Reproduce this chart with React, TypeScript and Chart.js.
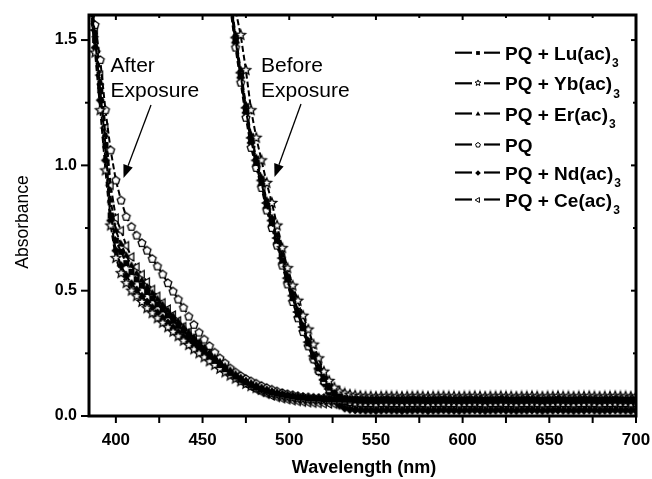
import React, { useEffect, useRef } from 'react';
import { Chart, registerables } from 'chart.js';
Chart.register(...registerables);

const FONT = "'Liberation Sans', Arial, Helvetica, sans-serif";

// Wavelength sampling (nm)
const WAVE_AFTER = [385,388,391,394,397,400,403,406,409,412,415,418,421,424,427,430,433,436,439,442,445,448,451,454,457,460,463,466,469,472,475,478,481,484,487,490,493,496,499,502,505,508,511,514,517,520,523,526,529,532,535,538,541,544,547,550,553,556,559,562,565,568,571,574,577,580,583,586,589,592,595,598,601,604,607,610,613,616,619,622,625,628,631,634,637,640,643,646,649,652,655,658,661,664,667,670,673,676,679,682,685,688,691,694,697,700];
const WAVE_BEFORE = WAVE_AFTER.slice(27);

// After exposure
const LU_AFTER = [1.68,1.50,1.30,1.08,0.80,0.70,0.655,0.61,0.575,0.545,0.52,0.495,0.47,0.446,0.425,0.402,0.38,0.36,0.34,0.318,0.298,0.278,0.258,0.238,0.22,0.203,0.187,0.172,0.158,0.145,0.134,0.124,0.115,0.107,0.1,0.094,0.089,0.085,0.081,0.078,0.075,0.073,0.071,0.07,0.069,0.068,0.067,
0.066,0.066,0.065,0.066,0.067,0.066,0.066,0.065,0.066,0.066,
0.067,0.066,0.065,0.066,0.066,0.067,0.066,0.066,0.065,0.066,
0.066,0.067,0.066,0.065,0.066,0.066,0.067,0.066,0.066,0.065,
0.066,0.066,0.067,0.066,0.065,0.066,0.066,0.067,0.066,0.066,
0.065,0.066,0.066,0.067,0.066,0.065,0.066,0.066,0.067,0.066,
0.066,0.065,0.066,0.066,0.067,0.066,0.065,0.066,0.066];
const YB_AFTER = [1.65,1.45,1.22,0.98,0.76,0.63,0.57,0.53,0.50,0.478,0.455,0.43,0.41,0.39,0.372,0.354,0.336,0.318,0.3,0.283,0.266,0.25,0.234,0.218,0.203,0.188,0.174,0.161,0.149,0.138,0.128,0.119,0.111,0.104,0.097,0.091,0.086,0.081,0.077,0.074,0.071,0.069,0.067,0.066,0.065,0.064,0.063,
0.062,0.062,0.061,0.062,0.063,0.062,0.062,0.061,0.062,0.062,
0.063,0.062,0.061,0.062,0.062,0.063,0.062,0.062,0.061,0.062,
0.062,0.063,0.062,0.061,0.062,0.062,0.063,0.062,0.062,0.061,
0.062,0.062,0.063,0.062,0.061,0.062,0.062,0.063,0.062,0.062,
0.061,0.062,0.062,0.063,0.062,0.061,0.062,0.062,0.063,0.062,
0.062,0.061,0.062,0.062,0.063,0.062,0.061,0.062,0.062];
const ER_AFTER = [1.70,1.52,1.33,1.12,0.86,0.74,0.685,0.64,0.6,0.568,0.54,0.514,0.49,0.466,0.443,0.42,0.398,0.376,0.355,0.334,0.313,0.293,0.272,0.252,0.233,0.215,0.198,0.182,0.167,0.153,0.141,0.13,0.121,0.112,0.104,0.097,0.092,0.087,0.083,0.08,0.077,0.075,0.073,0.072,0.071,0.07,0.069,
0.068,0.068,0.067,0.068,0.069,0.068,0.068,0.067,0.068,0.068,
0.069,0.068,0.067,0.068,0.068,0.069,0.068,0.068,0.067,0.068,
0.068,0.069,0.068,0.067,0.068,0.068,0.069,0.068,0.068,0.067,
0.068,0.068,0.069,0.068,0.067,0.068,0.068,0.069,0.068,0.068,
0.067,0.068,0.068,0.069,0.068,0.067,0.068,0.068,0.069,0.068,
0.068,0.067,0.068,0.068,0.069,0.068,0.067,0.068,0.068];
const PQ_AFTER = [1.72,1.56,1.42,1.22,1.06,0.94,0.86,0.795,0.755,0.72,0.69,0.66,0.627,0.597,0.565,0.53,0.497,0.465,0.432,0.397,0.364,0.333,0.305,0.279,0.253,0.23,0.21,0.19,0.174,0.16,0.148,0.138,0.129,0.12,0.112,0.105,0.098,0.092,0.087,0.083,0.079,0.076,0.074,0.072,0.071,0.071,0.070,
0.070,0.070,0.069,0.070,0.071,0.070,0.070,0.069,0.070,0.070,
0.071,0.070,0.069,0.070,0.070,0.071,0.070,0.070,0.069,0.070,
0.070,0.071,0.070,0.069,0.070,0.070,0.071,0.070,0.070,0.069,
0.070,0.070,0.071,0.070,0.069,0.070,0.070,0.071,0.070,0.070,
0.069,0.070,0.070,0.071,0.070,0.069,0.070,0.070,0.071,0.070,
0.070,0.069,0.070,0.070,0.071,0.070,0.069,0.070,0.070];
const ND_AFTER = [1.66,1.47,1.26,1.02,0.78,0.66,0.60,0.56,0.528,0.503,0.478,0.455,0.433,0.412,0.392,0.372,0.353,0.334,0.316,0.298,0.28,0.263,0.246,0.229,0.212,0.196,0.181,0.167,0.154,0.142,0.131,0.121,0.113,0.105,0.098,0.092,0.087,0.083,0.079,0.076,0.073,0.071,0.069,0.068,0.067,0.066,0.065,
0.064,0.064,0.063,0.064,0.065,0.064,0.064,0.063,0.064,0.064,
0.065,0.064,0.063,0.064,0.064,0.065,0.064,0.064,0.063,0.064,
0.064,0.065,0.064,0.063,0.064,0.064,0.065,0.064,0.064,0.063,
0.064,0.064,0.065,0.064,0.063,0.064,0.064,0.065,0.064,0.064,
0.063,0.064,0.064,0.065,0.064,0.063,0.064,0.064,0.065,0.064,
0.064,0.063,0.064,0.064,0.065,0.064,0.063,0.064,0.064];
const CE_AFTER = [1.70,1.54,1.36,1.15,0.92,0.79,0.74,0.68,0.635,0.595,0.565,0.535,0.505,0.478,0.452,0.427,0.403,0.38,0.357,0.334,0.312,0.29,0.268,0.247,0.227,0.208,0.19,0.173,0.157,0.142,0.128,0.116,0.105,0.095,0.087,0.08,0.074,0.069,0.065,0.061,0.058,0.055,0.053,0.051,0.05,0.049,0.048,
0.047,0.047,0.046,0.047,0.048,0.047,0.047,0.046,0.047,0.047,
0.048,0.047,0.046,0.047,0.047,0.048,0.047,0.047,0.046,0.047,
0.047,0.048,0.047,0.046,0.047,0.047,0.048,0.047,0.047,0.046,
0.047,0.047,0.048,0.047,0.046,0.047,0.047,0.048,0.047,0.047,
0.046,0.047,0.047,0.048,0.047,0.046,0.047,0.047,0.048,0.047,
0.047,0.046,0.047,0.047,0.048,0.047,0.046,0.047,0.047];

// Before exposure
const LU_BEFORE = [1.66,1.50,1.36,1.22,1.10,1.01,0.93,0.84,0.77,0.70,0.62,0.545,0.47,0.405,0.35,0.29,0.237,0.19,0.148,0.113,0.09,0.077,0.07,0.066,0.064,0.063,
0.062,0.062,0.061,0.062,0.063,0.062,0.062,0.061,0.062,0.062,
0.063,0.062,0.061,0.062,0.062,0.063,0.062,0.062,0.061,0.062,
0.062,0.063,0.062,0.061,0.062,0.062,0.063,0.062,0.062,0.061,
0.062,0.062,0.063,0.062,0.061,0.062,0.062,0.063,0.062,0.062,
0.061,0.062,0.062,0.063,0.062,0.061,0.062,0.062,0.063,0.062,
0.062,0.061,0.062];
const YB_BEFORE = [1.76,1.62,1.52,1.38,1.22,1.11,1.02,0.93,0.85,0.76,0.67,0.59,0.52,0.46,0.40,0.345,0.285,0.23,0.177,0.14,0.113,0.097,0.09,0.085,0.082,0.08,
0.078,0.078,0.077,0.078,0.079,0.078,0.078,0.077,0.078,0.078,
0.079,0.078,0.077,0.078,0.078,0.079,0.078,0.078,0.077,0.078,
0.078,0.079,0.078,0.077,0.078,0.078,0.079,0.078,0.078,0.077,
0.078,0.078,0.079,0.078,0.077,0.078,0.078,0.079,0.078,0.078,
0.077,0.078,0.078,0.079,0.078,0.077,0.078,0.078,0.079,0.078,
0.078,0.077,0.078];
const ER_BEFORE = [1.68,1.52,1.38,1.24,1.12,1.03,0.95,0.86,0.79,0.72,0.64,0.56,0.49,0.42,0.36,0.30,0.245,0.197,0.153,0.116,0.092,0.078,0.07,0.064,0.061,0.059,
0.058,0.058,0.057,0.058,0.059,0.058,0.058,0.057,0.058,0.058,
0.059,0.058,0.057,0.058,0.058,0.059,0.058,0.058,0.057,0.058,
0.058,0.059,0.058,0.057,0.058,0.058,0.059,0.058,0.058,0.057,
0.058,0.058,0.059,0.058,0.057,0.058,0.058,0.059,0.058,0.058,
0.057,0.058,0.058,0.059,0.058,0.057,0.058,0.058,0.059,0.058,
0.058,0.057,0.058];
const PQ_BEFORE = [1.63,1.47,1.33,1.19,1.07,0.99,0.91,0.82,0.75,0.68,0.60,0.525,0.455,0.39,0.335,0.278,0.226,0.18,0.14,0.107,0.083,0.068,0.06,0.056,0.054,0.053,
0.052,0.052,0.051,0.052,0.053,0.052,0.052,0.051,0.052,0.052,
0.053,0.052,0.051,0.052,0.052,0.053,0.052,0.052,0.051,0.052,
0.052,0.053,0.052,0.051,0.052,0.052,0.053,0.052,0.052,0.051,
0.052,0.052,0.053,0.052,0.051,0.052,0.052,0.053,0.052,0.052,
0.051,0.052,0.052,0.053,0.052,0.051,0.052,0.052,0.053,0.052,
0.052,0.051,0.052];
const ND_BEFORE = [1.65,1.49,1.35,1.21,1.09,1.00,0.92,0.83,0.76,0.69,0.61,0.535,0.46,0.395,0.34,0.28,0.225,0.175,0.13,0.092,0.062,0.042,0.031,0.026,0.024,0.023,
0.022,0.022,0.021,0.022,0.023,0.022,0.022,0.021,0.022,0.022,
0.023,0.022,0.021,0.022,0.022,0.023,0.022,0.022,0.021,0.022,
0.022,0.023,0.022,0.021,0.022,0.022,0.023,0.022,0.022,0.021,
0.022,0.022,0.023,0.022,0.021,0.022,0.022,0.023,0.022,0.022,
0.021,0.022,0.022,0.023,0.022,0.021,0.022,0.022,0.023,0.022,
0.022,0.021,0.022];
const CE_BEFORE = [1.67,1.51,1.37,1.23,1.11,1.02,0.94,0.85,0.78,0.71,0.63,0.55,0.48,0.415,0.355,0.295,0.24,0.19,0.145,0.108,0.08,0.062,0.052,0.047,0.045,0.044,
0.043,0.043,0.042,0.043,0.044,0.043,0.043,0.042,0.043,0.043,
0.044,0.043,0.042,0.043,0.043,0.044,0.043,0.043,0.042,0.043,
0.043,0.044,0.043,0.042,0.043,0.043,0.044,0.043,0.043,0.042,
0.043,0.043,0.044,0.043,0.042,0.043,0.043,0.044,0.043,0.043,
0.042,0.043,0.043,0.044,0.043,0.042,0.043,0.043,0.044,0.043,
0.043,0.042,0.043];

const LEGEND_LABELS = ['PQ + Lu(ac)', 'PQ + Yb(ac)', 'PQ + Er(ac)', 'PQ', 'PQ + Nd(ac)', 'PQ + Ce(ac)'];
const LEGEND_SUBS = ['3', '3', '3', '', '3', '3'];
const SHAPES = ['square', 'star', 'triUp', 'pentagon', 'diamond', 'triLeft'];
const AFTER_SERIES = [LU_AFTER, YB_AFTER, ER_AFTER, PQ_AFTER, ND_AFTER, CE_AFTER];
const BEFORE_SERIES = [LU_BEFORE, YB_BEFORE, ER_BEFORE, PQ_BEFORE, ND_BEFORE, CE_BEFORE];

const X_TICKS = [400, 425, 450, 475, 500, 525, 550, 575, 600, 625, 650, 675, 700];
const X_LABELED = [400, 450, 500, 550, 600, 650, 700];
const Y_TICKS = [0, 0.25, 0.5, 0.75, 1, 1.25, 1.5];
const Y_LABELED = [0, 0.5, 1, 1.5];

function makeMarker(kind: string, s: number, lw: number): HTMLCanvasElement {
  const size = 2 * Math.ceil(s + 2);
  const c = document.createElement('canvas');
  c.width = size;
  c.height = size;
  const g = c.getContext('2d')!;
  const cx = size / 2, cy = size / 2;
  g.lineWidth = lw;
  g.strokeStyle = '#000';
  g.fillStyle = '#000';
  g.lineJoin = 'miter';
  const poly = (n: number, r: number, rot: number, inner = 0) => {
    g.beginPath();
    const steps = inner ? n * 2 : n;
    for (let i = 0; i < steps; i++) {
      const rr = inner && i % 2 === 1 ? inner : r;
      const a = rot + (i * 2 * Math.PI) / steps;
      const px = cx + rr * Math.cos(a), py = cy + rr * Math.sin(a);
      if (i === 0) g.moveTo(px, py); else g.lineTo(px, py);
    }
    g.closePath();
  };
  const up = -Math.PI / 2;
  if (kind === 'square') {
    g.fillRect(cx - s * 0.85, cy - s * 0.85, s * 1.7, s * 1.7);
  } else if (kind === 'star') {
    poly(5, s, up, s * 0.45);
    g.fillStyle = '#fff'; g.fill(); g.stroke();
  } else if (kind === 'triUp') {
    poly(3, s, up);
    g.fill();
  } else if (kind === 'pentagon') {
    poly(5, s * 0.95, up);
    g.fillStyle = '#fff'; g.fill(); g.stroke();
  } else if (kind === 'diamond') {
    poly(4, s, up);
    g.fill();
  } else if (kind === 'triLeft') {
    poly(3, s, Math.PI);
    g.fillStyle = '#fff'; g.fill(); g.stroke();
  }
  return c;
}

function drawArrow(ctx: CanvasRenderingContext2D, x1: number, y1: number, x2: number, y2: number) {
  const ang = Math.atan2(y2 - y1, x2 - x1);
  const len = 13, hw = 5;
  const bx = x2 - len * Math.cos(ang), by = y2 - len * Math.sin(ang);
  ctx.beginPath();
  ctx.moveTo(x1, y1);
  ctx.lineTo(bx, by);
  ctx.lineWidth = 1.3;
  ctx.stroke();
  ctx.beginPath();
  ctx.moveTo(x2, y2);
  ctx.lineTo(bx + hw * Math.sin(ang), by - hw * Math.cos(ang));
  ctx.lineTo(bx - hw * Math.sin(ang), by + hw * Math.cos(ang));
  ctx.closePath();
  ctx.fill();
}

export default function App() {
  const ref = useRef<HTMLCanvasElement>(null);
  useEffect(() => {
    const canvas = ref.current!;
    const plotSizes = [3.6, 5.0, 4.6, 4.3, 4.6, 4.6];
    const markers = SHAPES.map((k, i) => makeMarker(k, plotSizes[i], 1.3));
    const legendMarkers = SHAPES.map((k, i) => makeMarker(k, plotSizes[i] * 0.62, 1));

    const datasets: any[] = [];
    SHAPES.forEach((_, i) => {
      const common = {
        showLine: true,
        borderColor: '#000',
        backgroundColor: '#000',
        borderWidth: 2,
        borderDash: [6, 3],
        pointStyle: markers[i],
        pointRadius: 4,
        pointHoverRadius: 4,
        fill: false,
      };
      datasets.push({
        label: LEGEND_LABELS[i] + ' after',
        data: WAVE_AFTER.map((x, j) => ({ x, y: AFTER_SERIES[i][j] })),
        ...common,
      });
      datasets.push({
        label: LEGEND_LABELS[i] + ' before',
        data: WAVE_BEFORE.map((x, j) => ({ x, y: BEFORE_SERIES[i][j] })),
        ...common,
      });
    });

    const decor = {
      id: 'decor',
      afterDraw(chart: any) {
        const { ctx, chartArea: a, scales } = chart;
        const xs = scales.x, ys = scales.y;
        ctx.save();
        ctx.strokeStyle = '#000';
        ctx.fillStyle = '#000';
        const line = (x1: number, y1: number, x2: number, y2: number) => {
          ctx.beginPath(); ctx.moveTo(x1, y1); ctx.lineTo(x2, y2); ctx.stroke();
        };
        // frame
        ctx.lineWidth = 3;
        ctx.strokeRect(a.left, a.top, a.right - a.left, a.bottom - a.top);
        // ticks
        ctx.lineWidth = 2;
        X_TICKS.forEach((v) => {
          const px = xs.getPixelForValue(v);
          const major = X_LABELED.includes(v);
          line(px, a.bottom, px, a.bottom + 7);
          line(px, a.top, px, a.top + (major ? 5 : 3));
        });
        Y_TICKS.forEach((v) => {
          const py = ys.getPixelForValue(v);
          const major = Y_LABELED.includes(v);
          line(a.left - (major ? 8 : 4), py, a.left, py);
          line(a.right - (major ? 5 : 3), py, a.right, py);
        });
        // legend
        const rows = [52.7, 83.3, 113.5, 144.5, 172.5, 199.5];
        rows.forEach((ry, i) => {
          ctx.lineWidth = 2.2;
          line(455, ry, 472, ry);
          line(484, ry, 500, ry);
          const m = legendMarkers[i];
          ctx.drawImage(m, Math.round(477.5 - m.width / 2), Math.round(ry - m.height / 2));
          ctx.font = `bold 19px ${FONT}`;
          ctx.textAlign = 'left';
          ctx.textBaseline = 'alphabetic';
          const base = ry + 7;
          ctx.fillText(LEGEND_LABELS[i], 505, base);
          if (LEGEND_SUBS[i]) {
            const w = ctx.measureText(LEGEND_LABELS[i]).width;
            ctx.font = `bold 12px ${FONT}`;
            ctx.fillText(LEGEND_SUBS[i], 505 + w + 1, base + 7.5);
          }
        });
        // annotations
        ctx.font = `21px ${FONT}`;
        ctx.textAlign = 'left';
        ctx.textBaseline = 'alphabetic';
        ctx.fillText('After', 110.5, 72);
        ctx.fillText('Exposure', 110.5, 97);
        ctx.fillText('Before', 261, 72);
        ctx.fillText('Exposure', 261, 97);
        drawArrow(ctx, 151, 105, 123.5, 178);
        drawArrow(ctx, 301, 104, 274.5, 177);
        // axis titles
        ctx.font = `bold 18px ${FONT}`;
        ctx.textAlign = 'center';
        ctx.fillText('Wavelength (nm)', 364, 473);
        ctx.save();
        ctx.translate(28, 222);
        ctx.rotate(-Math.PI / 2);
        ctx.font = `17.5px ${FONT}`;
        ctx.textAlign = 'center';
        ctx.fillText('Absorbance', 0, 0);
        ctx.restore();
        ctx.restore();
      },
    };

    const chart = new Chart(canvas, {
      type: 'scatter',
      data: { datasets },
      options: {
        animation: false,
        responsive: false,
        devicePixelRatio: 1,
        events: [],
        layout: { padding: { left: 0, top: 15, right: 16, bottom: 0 } },
        plugins: { legend: { display: false }, tooltip: { enabled: false } },
        scales: {
          x: {
            type: 'linear',
            min: 384.5,
            max: 700,
            grid: { display: false },
            border: { display: false },
            afterBuildTicks: (ax: any) => { ax.ticks = X_TICKS.map((v) => ({ value: v })); },
            afterFit: (ax: any) => { ax.height = 63; ax.paddingLeft = 0; ax.paddingRight = 0; },
            ticks: {
              autoSkip: false,
              maxRotation: 0,
              padding: 6,
              color: '#000',
              font: { family: FONT, size: 17, weight: 'bold' },
              callback: (v: any) => (X_LABELED.includes(Number(v)) ? String(v) : ''),
            },
          },
          y: {
            type: 'linear',
            min: 0,
            max: 1.6,
            grid: { display: false },
            border: { display: false },
            afterBuildTicks: (ax: any) => { ax.ticks = Y_TICKS.map((v) => ({ value: v })); },
            afterFit: (ax: any) => { ax.width = 89; ax.paddingTop = 0; ax.paddingBottom = 0; },
            ticks: {
              autoSkip: false,
              padding: 4,
              color: '#000',
              font: { family: FONT, size: 16, weight: 'bold' },
              callback: (v: any) => (Y_LABELED.includes(Number(v)) ? Number(v).toFixed(1) : ''),
            },
          },
        },
      } as any,
      plugins: [decor],
    });
    return () => chart.destroy();
  }, []);

  return (
    <div style={{ position: 'fixed', left: 0, top: 0, width: 652, height: 479, background: '#fff' }}>
      <canvas ref={ref} width={652} height={479} style={{ display: 'block' }} />
    </div>
  );
}
